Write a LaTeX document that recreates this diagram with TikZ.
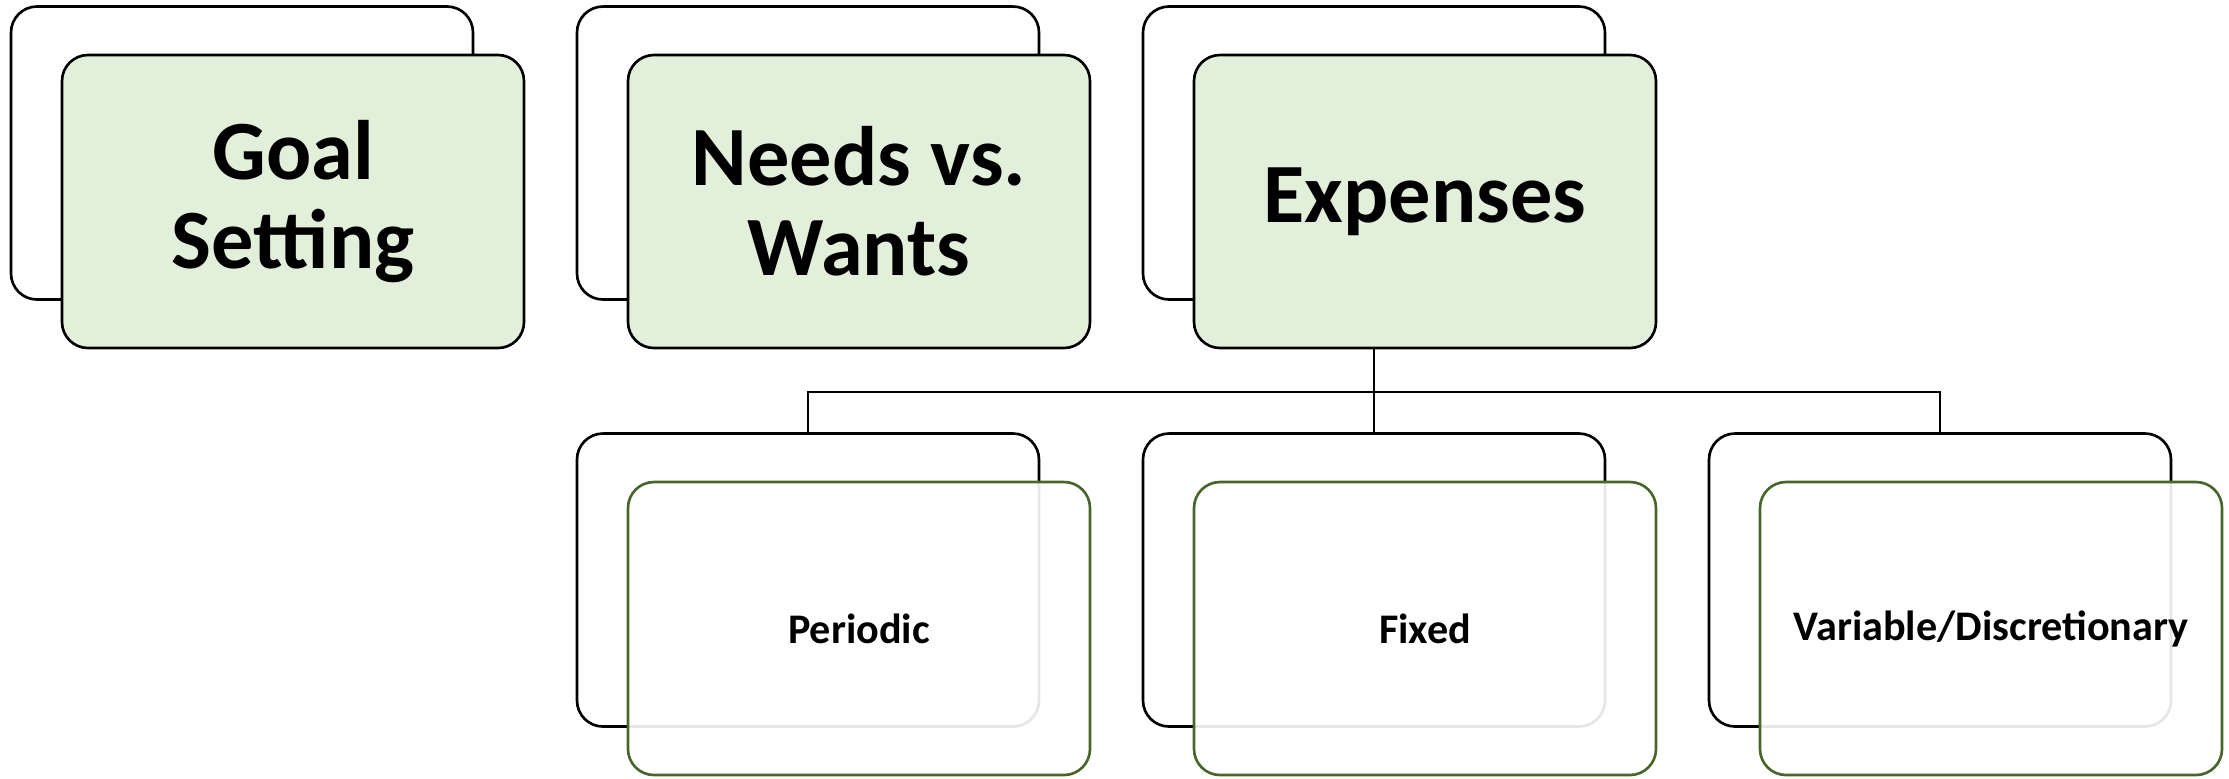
\documentclass[tikz,border=0pt]{standalone}
\usepackage{fontspec}
\setmainfont{Carlito}
\usetikzlibrary{positioning}

\definecolor{cardgreen}{RGB}{226,239,218}
\definecolor{olive}{RGB}{72,102,42}

\tikzset{
  card/.style={rectangle, rounded corners=2.6mm, minimum width=4.62cm,
    minimum height=2.93cm, inner sep=0pt, align=center},
  backcard/.style={card, draw=black, fill=white},
  topcard/.style={card, draw=black, fill=cardgreen,
    font=\fontsize{24}{25.5}\selectfont\bfseries},
  subcard/.style={card, draw=olive, fill=white, fill opacity=0.9,
    text opacity=1, font=\fontsize{12}{14}\selectfont\bfseries}
}

\begin{document}
\begin{tikzpicture}[line width=0.75pt, node distance=5.66cm]
	\useasboundingbox (0,0) rectangle (22.29,-7.78);

	% cards lying behind
	\node[backcard] (Gb) at (2.42,-1.53) {};
	\node[backcard] (Nb) [right of=Gb] {};
	\node[backcard] (Eb) [right of=Nb] {};

	\node[backcard] (Pb) [below of=Nb, node distance=4.27cm] {};
	\node[backcard] (Fb) [right of=Pb] {};
	\node[backcard] (Vb) [right of=Fb] {};

	% tree under Expenses
	\coordinate (split) at ([yshift=-9.1mm]Eb.south);
	\draw (Eb.south) -- (split);
	\draw (Pb.north) |- (split) -| (Vb.north);
	\draw (split) -- (Fb.north);

	% cards in front
	\node[topcard] (G) at (Gb) [xshift=5.1mm, yshift=-4.85mm] {Goal\\Setting};
	\node[topcard] (N) at (Nb) [xshift=5.1mm, yshift=-4.85mm] {Needs vs.\\Wants};
	\node[topcard] (E) at (Eb) [xshift=5.1mm, yshift=-4.85mm] {Expenses};

	\node[subcard] (P) at (Pb) [xshift=5.1mm, yshift=-4.85mm] {Periodic};
	\node[subcard] (F) at (Fb) [xshift=5.1mm, yshift=-4.85mm] {Fixed};
	\node[subcard] (V) at (Vb) [xshift=5.1mm, yshift=-4.85mm] {Variable/Discretionary};

\end{tikzpicture}
\end{document}
